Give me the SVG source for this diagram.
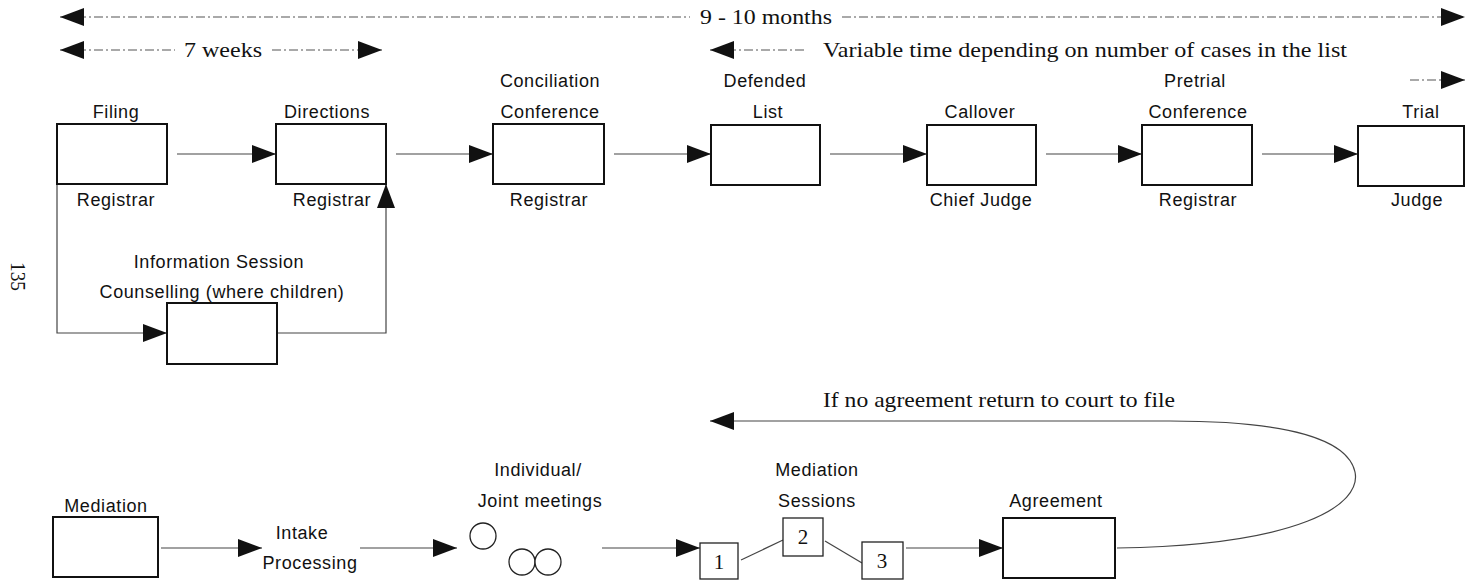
<svg xmlns="http://www.w3.org/2000/svg" width="1472" height="580" viewBox="0 0 1472 580">
<style>
.box{fill:#fff;stroke:#111;stroke-width:2}
.sm{fill:#fff;stroke:#222;stroke-width:1.3}
.c{fill:none;stroke:#444;stroke-width:1.2}
.d{fill:none;stroke:#555;stroke-width:1.2;stroke-dasharray:9 3 2 3}
.s{font-family:"Liberation Sans",Arial,sans-serif;font-size:18px;fill:#111;text-anchor:middle;letter-spacing:0.6px}
.r{font-family:"Liberation Serif","Times New Roman",serif;font-size:21px;fill:#111}
</style>
<defs>
<marker id="a" viewBox="0 0 24 18" refX="24" refY="9" markerWidth="24" markerHeight="18" markerUnits="userSpaceOnUse" orient="auto-start-reverse">
<path d="M0,0 L24,9 L0,18 z" fill="#111"/>
</marker>
</defs>
<rect width="1472" height="580" fill="#fff"/>

<g id="page-number"><text class="r" transform="translate(11,262) rotate(90)" textLength="29" lengthAdjust="spacingAndGlyphs">135</text></g>

<g id="timelines">
<line class="d" x1="60" y1="17" x2="690" y2="17" marker-start="url(#a)"/>
<line class="d" x1="842" y1="17" x2="1465" y2="17" marker-end="url(#a)"/>
<text class="r" x="700" y="24" textLength="132" lengthAdjust="spacingAndGlyphs">9 - 10 months</text>
<line class="d" x1="60" y1="50" x2="175" y2="50" marker-start="url(#a)"/>
<line class="d" x1="272" y1="50" x2="382" y2="50" marker-end="url(#a)"/>
<text class="r" x="184" y="57" textLength="78" lengthAdjust="spacingAndGlyphs">7 weeks</text>
<line class="d" x1="710" y1="50" x2="805" y2="50" marker-start="url(#a)"/>
<text class="r" x="823" y="57" textLength="524" lengthAdjust="spacingAndGlyphs">Variable time depending on number of cases in the list</text>
<line class="d" x1="1410" y1="80" x2="1465" y2="80" marker-end="url(#a)"/>
</g>

<g id="connectors">
<line class="c" x1="177" y1="154" x2="276" y2="154" marker-end="url(#a)"/>
<line class="c" x1="396" y1="154" x2="493" y2="154" marker-end="url(#a)"/>
<line class="c" x1="614" y1="154" x2="711" y2="154" marker-end="url(#a)"/>
<line class="c" x1="830" y1="154" x2="927" y2="154" marker-end="url(#a)"/>
<line class="c" x1="1046" y1="154" x2="1142" y2="154" marker-end="url(#a)"/>
<line class="c" x1="1262" y1="154" x2="1358" y2="154" marker-end="url(#a)"/>
<path class="c" d="M57,184 V333 H167" marker-end="url(#a)"/>
<path class="c" d="M277,333 H386 V184" marker-end="url(#a)"/>
<line class="c" x1="161" y1="548" x2="262" y2="548" marker-end="url(#a)"/>
<line class="c" x1="360" y1="548" x2="457" y2="548" marker-end="url(#a)"/>
<line class="c" x1="602" y1="548" x2="700" y2="548" marker-end="url(#a)"/>
<line class="c" x1="741" y1="560" x2="783" y2="540"/>
<line class="c" x1="825" y1="541" x2="862" y2="563"/>
<line class="c" x1="906" y1="548" x2="1003" y2="548" marker-end="url(#a)"/>
<path class="c" d="M1117,548 C1300,545 1362,505 1355,472 C1348,440 1290,421 1170,421 L710,421" marker-end="url(#a)"/>
<text class="r" x="823" y="407" textLength="352" lengthAdjust="spacingAndGlyphs">If no agreement return to court to file</text>
</g>

<g id="filing">
<text class="s" x="116" y="118">Filing</text>
<rect class="box" x="57" y="124" width="110" height="60"/>
<text class="s" x="116" y="206">Registrar</text>
</g>
<g id="directions">
<text class="s" x="327" y="118">Directions</text>
<rect class="box" x="276" y="124" width="110" height="60"/>
<text class="s" x="332" y="206">Registrar</text>
</g>
<g id="conciliation">
<text class="s" x="550" y="87">Conciliation</text>
<text class="s" x="550" y="118">Conference</text>
<rect class="box" x="493" y="124" width="111" height="60"/>
<text class="s" x="549" y="206">Registrar</text>
</g>
<g id="defended">
<text class="s" x="765" y="87">Defended</text>
<text class="s" x="768" y="118">List</text>
<rect class="box" x="711" y="125" width="109" height="60"/>
</g>
<g id="callover">
<text class="s" x="980" y="118">Callover</text>
<rect class="box" x="927" y="125" width="109" height="60"/>
<text class="s" x="981" y="206">Chief Judge</text>
</g>
<g id="pretrial">
<text class="s" x="1195" y="87">Pretrial</text>
<text class="s" x="1198" y="118">Conference</text>
<rect class="box" x="1142" y="125" width="110" height="60"/>
<text class="s" x="1198" y="206">Registrar</text>
</g>
<g id="trial">
<text class="s" x="1421" y="118">Trial</text>
<rect class="box" x="1358" y="126" width="106" height="60"/>
<text class="s" x="1417" y="206">Judge</text>
</g>
<g id="info-session">
<text class="s" x="219" y="268">Information Session</text>
<text class="s" x="222" y="298">Counselling (where children)</text>
<rect class="box" x="167" y="303" width="110" height="61"/>
</g>

<g id="mediation">
<text class="s" x="106" y="512">Mediation</text>
<rect class="box" x="53" y="517" width="105" height="60"/>
</g>
<g id="intake">
<text class="s" x="302" y="539">Intake</text>
<text class="s" x="310" y="569">Processing</text>
</g>
<g id="meetings">
<text class="s" x="538" y="476">Individual/</text>
<text class="s" x="540" y="507">Joint meetings</text>
<circle class="sm" cx="483" cy="536" r="13"/>
<circle class="sm" cx="522" cy="562" r="13"/>
<circle class="sm" cx="548" cy="562" r="13"/>
</g>
<g id="sessions">
<text class="s" x="817" y="476">Mediation</text>
<text class="s" x="817" y="507">Sessions</text>
</g>
<g id="session-1"><rect class="sm" x="700" y="543" width="38" height="36"/><text class="r" x="719" y="569" text-anchor="middle">1</text></g>
<g id="session-2"><rect class="sm" x="783" y="518" width="40" height="38"/><text class="r" x="803" y="544" text-anchor="middle">2</text></g>
<g id="session-3"><rect class="sm" x="862" y="542" width="41" height="37"/><text class="r" x="882" y="568" text-anchor="middle">3</text></g>
<g id="agreement">
<text class="s" x="1056" y="507">Agreement</text>
<rect class="box" x="1003" y="518" width="112" height="60"/>
</g>
</svg>
